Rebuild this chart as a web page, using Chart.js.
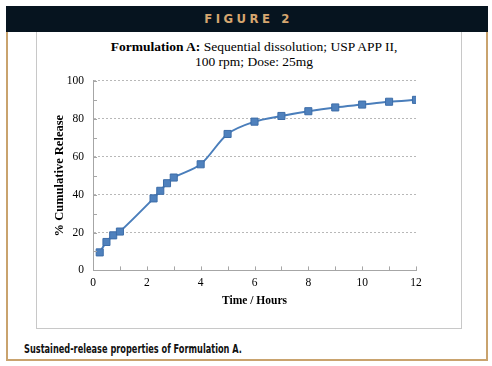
<!DOCTYPE html>
<html>
<head>
<meta charset="utf-8">
<script src="https://cdn.jsdelivr.net/npm/chart.js@4/dist/chart.umd.min.js"></script>
<style>
  html, body { margin: 0; padding: 0; background: #fff; }
  body { width: 492px; height: 366px; position: relative; overflow: hidden; }
  #frame { position: absolute; left: 6px; top: 6px; width: 478px; height: 353px;
           border: 2px solid #c9a36e; border-top: none; }
  #header { position: absolute; left: 6px; top: 6px; width: 482px; height: 26px; background: #06141f;
            color: #d5a66f; font: bold 13px "DejaVu Sans Condensed", "Liberation Sans Narrow", sans-serif;
            letter-spacing: 3.5px; text-indent: 3px; text-align: center; line-height: 26px; }
  #box { position: absolute; left: 36px; top: 32px; width: 424px; height: 296px;
         border: 1px solid #c8c8c8; border-top: none; background: #fff; }
  #title { position: absolute; left: 104px; top: 39px; width: 300px; text-align: center;
           font: 13.5px "Liberation Serif", "Times New Roman", serif; line-height: 15px;
           color: #000; white-space: nowrap; }
  #wrap { position: absolute; left: 37px; top: 65px; width: 423px; height: 262px; }
  #caption { position: absolute; left: 24px; top: 342px; font: bold 12px "Liberation Sans Narrow", "DejaVu Sans Condensed", sans-serif;
             color: #111; white-space: nowrap; transform: scaleX(0.76); transform-origin: 0 0; }
</style>
</head>
<body>
<div id="frame"></div>
<div id="header">FIGURE 2</div>
<div id="box"></div>
<div id="title"><b>Formulation A:</b> Sequential dissolution; USP APP II,<br>100 rpm; Dose: 25mg</div>
<div id="wrap"><canvas id="relChart" width="423" height="262"></canvas></div>
<div id="caption">Sustained-release properties of Formulation A.</div>
<script>
// time points (hours) and cumulative release (%)
const hours = [0.25, 0.5, 0.75, 1, 2.25, 2.5, 2.75, 3, 4, 5, 6, 7, 8, 9, 10, 11, 12];
const release = [9.5, 15, 18.5, 20.5, 38, 42, 46, 49, 56, 72, 78.5, 81.5, 84, 86, 87.5, 89, 90];
const xTicks = [0, 2, 4, 6, 8, 10, 12];
const yTicks = [0, 20, 40, 60, 80, 100];

const axisColor = '#a6a6a6';
const serif = '"Liberation Serif", "Times New Roman", serif';

// small inward tick marks like the Excel original
const innerTicks = {
  id: 'innerTicks',
  afterDatasetsDraw(chart) {
    const { ctx, scales: { x, y } } = chart;
    ctx.save();
    ctx.strokeStyle = axisColor;
    ctx.lineWidth = 1;
    x.ticks.forEach(t => {
      const px = Math.round(x.getPixelForValue(t.value)) + 0.5;
      ctx.beginPath();
      ctx.moveTo(px, y.bottom);
      ctx.lineTo(px, y.bottom - 4);
      ctx.stroke();
    });
    y.ticks.forEach(t => {
      const py = Math.round(y.getPixelForValue(t.value)) + 0.5;
      ctx.beginPath();
      ctx.moveTo(x.left, py);
      ctx.lineTo(x.left + 4, py);
      ctx.stroke();
    });
    ctx.restore();
  }
};

const points = hours.map((h, i) => ({ x: h, y: release[i] }));

new Chart(document.getElementById('relChart'), {
  type: 'line',
  data: {
    datasets: [{
      label: 'Formulation A',
      data: points,
      borderColor: '#4a7ebb',
      borderWidth: 2,
      backgroundColor: '#4f81bd',
      pointStyle: 'rect',
      pointRadius: 5,
      pointBorderColor: '#3d6da8',
      pointBorderWidth: 1,
      tension: 0.3
    }]
  },
  plugins: [innerTicks],
  options: {
    responsive: false,
    animation: false,
    layout: { padding: { left: 15, right: 44, top: 3, bottom: 16 } },
    plugins: {
      legend: { display: false },
      tooltip: { enabled: false }
    },
    scales: {
      x: {
        type: 'linear',
        min: 0,
        max: 12,
        ticks: {
          stepSize: 1,
          autoSkip: false,
          maxRotation: 0,
          padding: 6,
          color: '#000',
          font: { family: serif, size: 11.5 },
          callback: v => xTicks.includes(v) ? v : ''
        },
        grid: { drawOnChartArea: false, drawTicks: false },
        border: { color: axisColor, width: 1 },
        title: {
          display: true,
          text: 'Time / Hours',
          color: '#000',
          font: { family: serif, size: 11.5, weight: 'bold' },
          padding: { top: -2, bottom: 3 }
        }
      },
      y: {
        min: 0,
        max: 100,
        afterFit: s => { s.width = 41; },
        ticks: {
          stepSize: 10,
          autoSkip: false,
          padding: 9,
          color: '#000',
          font: { family: serif, size: 11.5 },
          callback: v => yTicks.includes(v) ? v : ''
        },
        grid: {
          drawTicks: false,
          color: c => (c.tick && c.tick.value > 0 && yTicks.includes(c.tick.value)) ? '#b8b8b8' : 'rgba(0,0,0,0)'
        },
        border: { color: axisColor, width: 1, dash: [2, 2] },
        title: {
          display: true,
          text: '% Cumulative Release',
          color: '#000',
          font: { family: serif, size: 12.5, weight: 'bold' },
          padding: { top: 0, bottom: 3 }
        }
      }
    }
  }
});
</script>
</body>
</html>
